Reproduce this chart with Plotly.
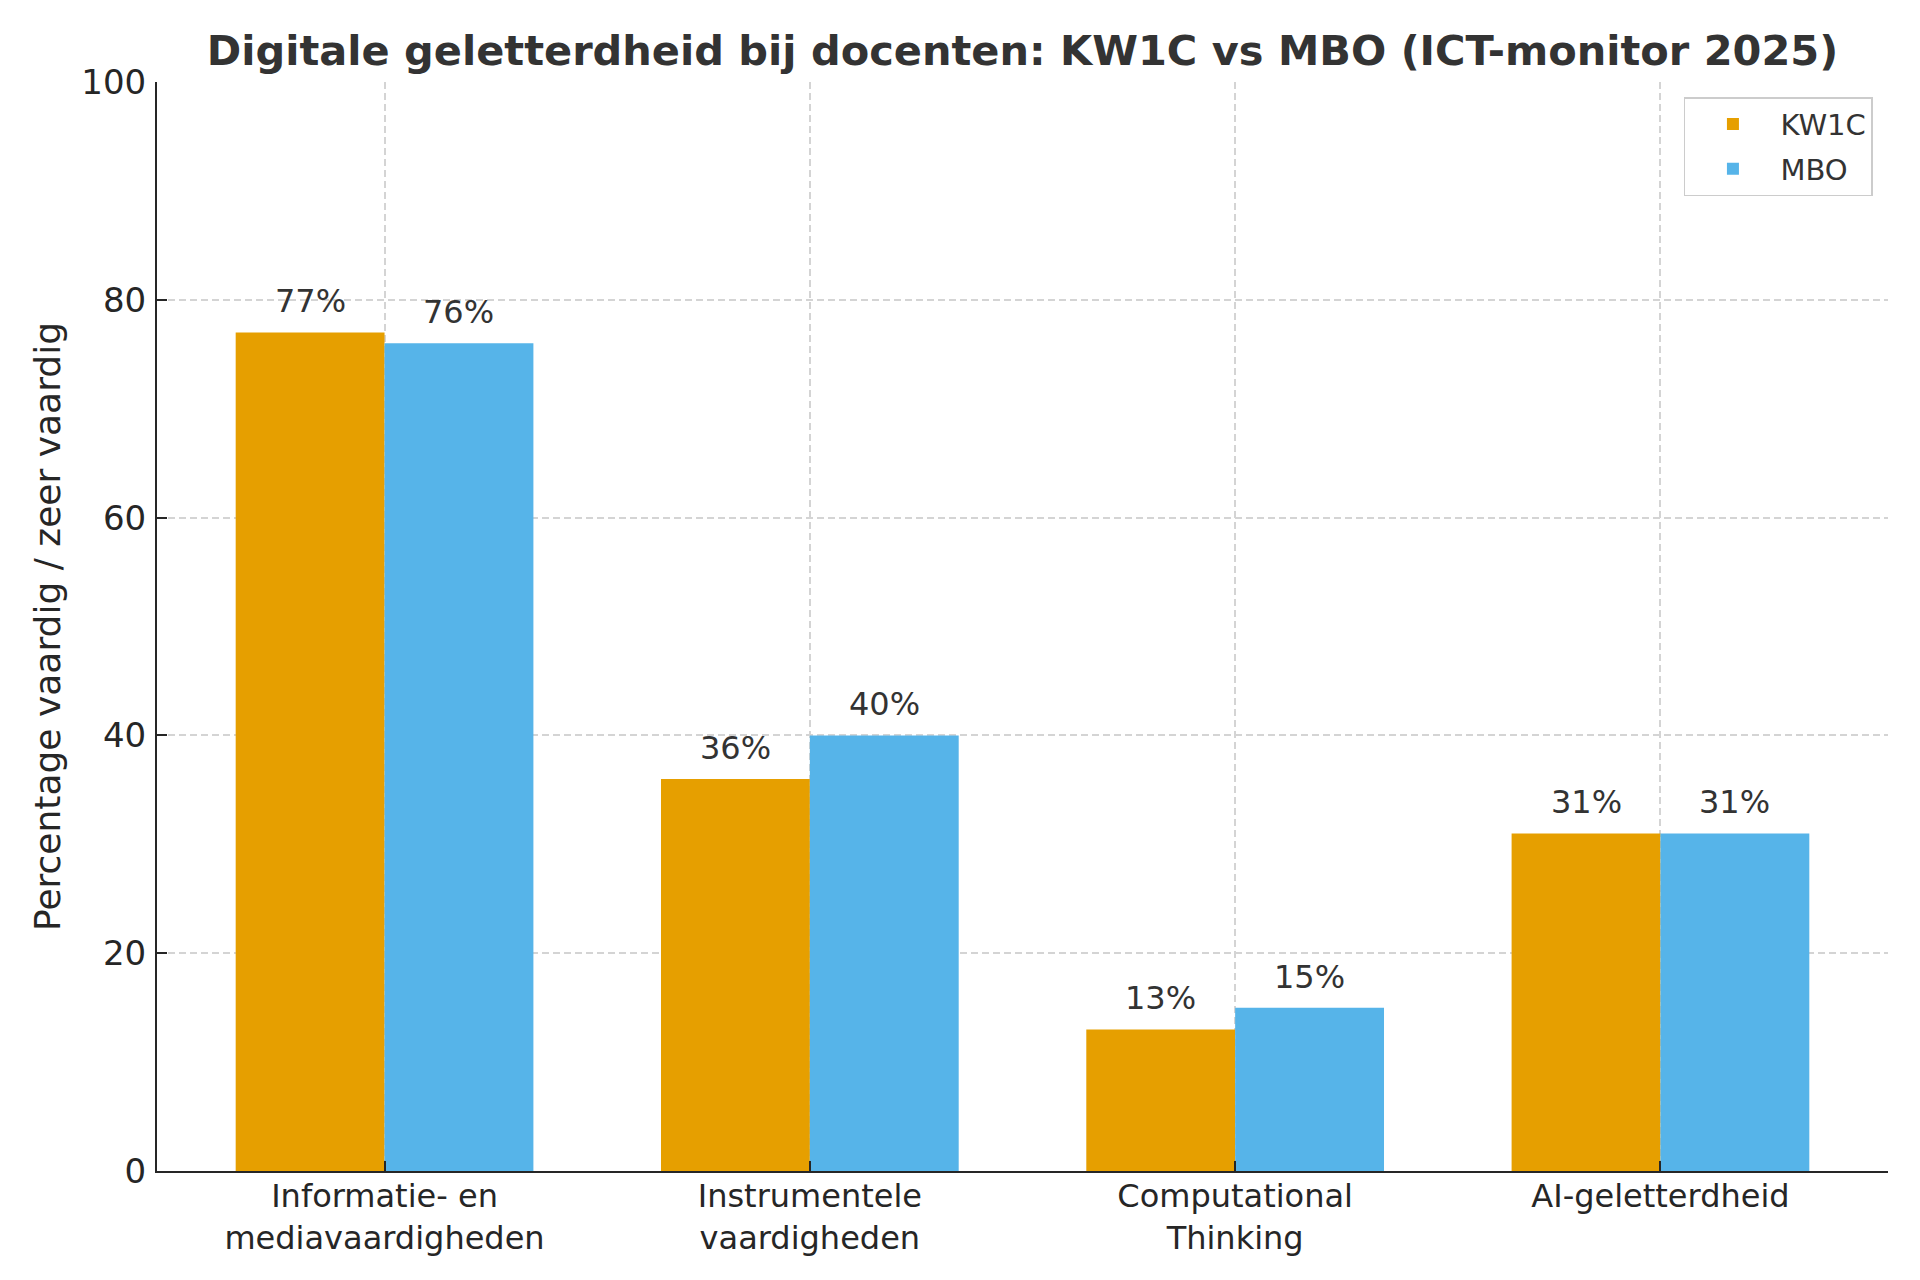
import plotly.graph_objects as go

# data
categories = ["Informatie- en<br>mediavaardigheden", "Instrumentele<br>vaardigheden",
              "Computational<br>Thinking", "AI-geletterdheid"]
kw1c = [77, 36, 13, 31]
mbo = [76, 40, 15, 31]
y_ticks = [0, 20, 40, 60, 80, 100]

FONT = "DejaVu Sans"
TEXT = "#333333"
TICK_TEXT = "#262626"
ORANGE = "#E69F00"
BLUE = "#56B4E9"
BAR_W = 0.35

idx = list(range(len(categories)))

fig = go.Figure()
fig.add_trace(go.Bar(
    x=idx, y=kw1c, name="KW1C", width=BAR_W, offset=-BAR_W,
    marker=dict(color=ORANGE, line=dict(width=0)),
    legendgroup="a",
))
fig.add_trace(go.Bar(
    x=idx, y=mbo, name="MBO", width=BAR_W, offset=0,
    marker=dict(color=BLUE, line=dict(width=0)),
    legendgroup="b",
))

# value labels above each bar
for series, shift in ((kw1c, -BAR_W / 2), (mbo, BAR_W / 2)):
    for i, v in zip(idx, series):
        fig.add_annotation(
            x=i + shift, y=v, text=f"{v}%", showarrow=False,
            xref="x", yref="y", yanchor="bottom", yshift=10,
            font=dict(family=FONT, size=32, color=TEXT),
        )

grid = dict(showgrid=True, gridcolor="#d4d4d4", gridwidth=1.5, griddash="7px,4px")

fig.update_xaxes(
    range=[-0.535, 3.535],
    tickmode="array", tickvals=idx, ticktext=categories,
    ticks="inside", ticklen=10, tickwidth=2, tickcolor="#262626",
    showline=True, linecolor="#262626", linewidth=2,
    tickfont=dict(family=FONT, size=32, color=TICK_TEXT),
    ticklabelstandoff=-4,
    zeroline=False,
    **grid,
)
fig.update_yaxes(
    range=[0, 100],
    tickmode="array", tickvals=y_ticks,
    ticks="inside", ticklen=10, tickwidth=2, tickcolor="#262626",
    showline=True, linecolor="#262626", linewidth=2,
    tickfont=dict(family=FONT, size=34, color=TICK_TEXT),
    ticklabelstandoff=2,
    zeroline=False,
    title=dict(text="Percentage vaardig / zeer vaardig", standoff=10,
               font=dict(family=FONT, size=36, color=TICK_TEXT)),
    **grid,
)

fig.update_layout(
    width=1920, height=1280,
    margin=dict(l=157, r=32, t=82, b=109, autoexpand=False),
    paper_bgcolor="white", plot_bgcolor="white",
    barmode="overlay",
    title=dict(
        text="<b>Digitale geletterdheid bij docenten: KW1C vs MBO (ICT-monitor 2025)</b>",
        x=0.5, xref="paper", xanchor="center",
        y=1 - 50 / 1280, yref="container", yanchor="middle",
        font=dict(family=FONT, size=41.5, color=TEXT),
    ),
    legend=dict(
        x=0.9913, y=0.986, xanchor="right", yanchor="top",
        bgcolor="white", bordercolor="#cccccc", borderwidth=1.5,
        font=dict(family=FONT, size=29, color=TEXT),
        itemwidth=85, tracegroupgap=4,
    ),
    showlegend=True,
)

# drop the browser's default body margin so the figure sits at (0, 0)
fig.write_html(
    "out.html",
    config={"displayModeBar": False},
    post_script="document.body.style.margin = '0';",
)
